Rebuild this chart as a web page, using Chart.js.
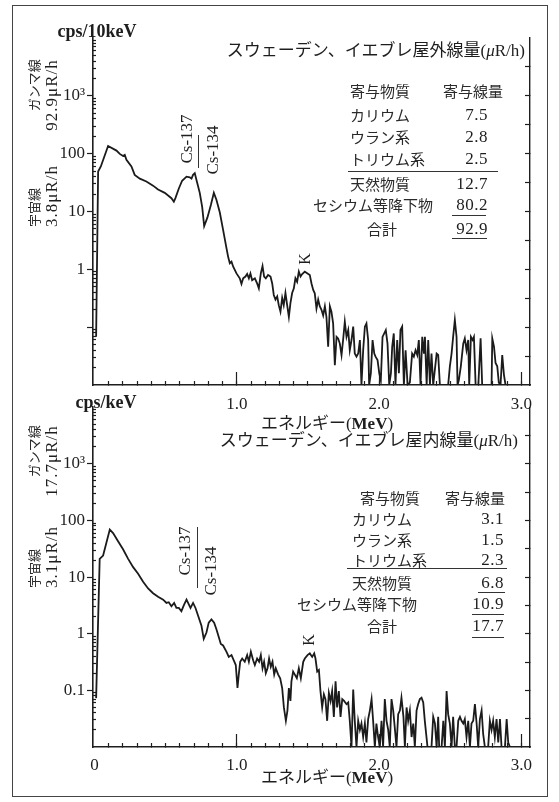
<!DOCTYPE html>
<html lang="ja">
<head>
<meta charset="utf-8">
<script src="https://cdn.jsdelivr.net/npm/chart.js@4.4.1/dist/chart.umd.min.js"></script>
<style>
  html, body { margin: 0; padding: 0; background: #fff; }
  #page { position: relative; width: 559px; height: 802px; overflow: hidden;
          font-family: "Liberation Serif", "Noto Sans CJK JP", serif; color: #1e1e1e; }
  #frame { position: absolute; left: 12px; top: 5px; width: 534px; height: 790px; border: 1.5px solid #444; }
  canvas { position: absolute; left: 0; }
  #overlay { position: absolute; left: 0; top: 0; width: 559px; height: 802px; }
  .t { position: absolute; white-space: nowrap; line-height: 1; }
  .jp { font-family: "Noto Sans CJK JP", sans-serif; font-size: 15px; color: #2a2a2a; }
  .num { font-size: 17px; letter-spacing: 0.5px; }
  .rot { position: absolute; white-space: nowrap; line-height: 1.1; transform: translate(-50%, -50%) rotate(-90deg); }
  .rule { position: absolute; height: 0; border-top: 1.3px solid #333; }
  .bar { position: absolute; width: 0; border-left: 1.3px solid #333; }
</style>
</head>
<body>
<div id="page">
  <div id="frame"></div>
  <canvas id="topChart" width="559" height="420" style="top:0"></canvas>
  <canvas id="bottomChart" width="559" height="407" style="top:395px"></canvas>
  <div id="overlay"></div>
</div>
<script>
/* ------------------------------------------------------------------
   データ — 読み取った値 (エネルギー MeV / 計数率)
   計数が軸の下限まで落ちている所は 0.01 として置いている
   ------------------------------------------------------------------ */
const X_MIN = -0.01, X_MAX = 3.06;
const Y_MIN = 0.01, Y_MAX = 10000;

// 屋外 (cps/10keV)
const outdoorEnergy = [
  0.012, 0.026, 0.045, 0.096, 0.155, 0.178, 0.201, 0.213, 0.225, 0.260, 0.283, 0.319, 0.365, 0.412,
  0.447, 0.494, 0.541, 0.558, 0.569, 0.593, 0.616, 0.647, 0.670, 0.682, 0.693, 0.705, 0.717, 0.740,
  0.757, 0.771, 0.794, 0.818, 0.839, 0.857, 0.881, 0.904, 0.928, 0.939, 0.951, 0.963, 0.975, 0.998,
  1.021, 1.033, 1.045, 1.061, 1.073, 1.085, 1.096, 1.108, 1.127, 1.143, 1.155, 1.169, 1.181, 1.192,
  1.204, 1.220, 1.237, 1.249, 1.260, 1.272, 1.284, 1.295, 1.307, 1.319, 1.330, 1.342, 1.354, 1.366,
  1.377, 1.389, 1.401, 1.412, 1.424, 1.436, 1.448, 1.458, 1.478, 1.497, 1.513, 1.525, 1.537, 1.548,
  1.560, 1.572, 1.583, 1.595, 1.607, 1.619, 1.630, 1.642, 1.654, 1.665, 1.677, 1.689, 1.701, 1.712,
  1.724, 1.736, 1.747, 1.759, 1.771, 1.783, 1.794, 1.806, 1.818, 1.829, 1.841, 1.853, 1.865, 1.876,
  1.888, 1.900, 1.911, 1.923, 1.930, 1.942, 1.954, 1.966, 1.975, 1.989, 2.001, 2.012, 2.024, 2.036,
  2.047, 2.059, 2.071, 2.083, 2.092, 2.103, 2.115, 2.127, 2.139, 2.150, 2.162, 2.174, 2.186, 2.200,
  2.216, 2.232, 2.244, 2.256, 2.268, 2.279, 2.291, 2.303, 2.315, 2.322, 2.334, 2.345, 2.357, 2.368,
  2.380, 2.404, 2.415, 2.427, 2.485, 2.497, 2.509, 2.520, 2.532, 2.544, 2.551, 2.560, 2.574, 2.591,
  2.602, 2.614, 2.626, 2.633, 2.645, 2.657, 2.666, 2.678, 2.697, 2.713, 2.724, 2.790, 2.795, 2.807,
  2.818, 2.830, 2.841, 2.853, 2.865, 2.877, 2.888
];
const outdoorCounts = [
  0.068, 49, 60, 136, 113, 99, 91, 95, 78, 60, 43, 37, 33, 28,
  24, 21, 17, 14.8, 17, 25, 34, 40, 39, 37, 43, 46, 35, 21,
  12, 5.6, 7.9, 13, 21, 16, 9.6, 4.8, 2.3, 1.66, 1.27, 1.36, 1.11, 0.85,
  0.70, 0.56, 0.70, 0.75, 0.83, 0.70, 0.85, 0.65, 0.70, 0.57, 0.47, 0.85, 1.14, 0.75,
  0.70, 0.80, 0.75, 0.57, 0.36, 0.30, 0.34, 0.24, 0.185, 0.32, 0.24, 0.39, 0.24, 0.15,
  0.26, 0.39, 0.47, 0.70, 0.61, 0.91, 0.75, 0.82, 0.91, 0.85, 0.80, 0.57, 0.44, 0.385,
  0.21, 0.30, 0.23, 0.20, 0.16, 0.23, 0.15, 0.046, 0.23, 0.185, 0.116, 0.022, 0.068, 0.064,
  0.052, 0.033, 0.060, 0.124, 0.068, 0.089, 0.040, 0.060, 0.102, 0.035, 0.031, 0.035, 0.060, 0.01,
  0.040, 0.102, 0.116, 0.060, 0.01, 0.016, 0.060, 0.035, 0.031, 0.027, 0.016, 0.012, 0.068, 0.078,
  0.089, 0.052, 0.01, 0.016, 0.046, 0.078, 0.01, 0.060, 0.016, 0.089, 0.102, 0.01, 0.040, 0.01,
  0.011, 0.035, 0.031, 0.040, 0.033, 0.060, 0.01, 0.068, 0.035, 0.068, 0.01, 0.060, 0.01, 0.035,
  0.01, 0.035, 0.033, 0.01, 0.01, 0.021, 0.035, 0.068, 0.133, 0.068, 0.01, 0.012, 0.021, 0.052,
  0.064, 0.040, 0.060, 0.01, 0.068, 0.060, 0.068, 0.01, 0.01, 0.064, 0.01, 0.01, 0.064, 0.046,
  0.024, 0.021, 0.011, 0.01, 0.033, 0.015, 0.01
];

// 屋内 (cps/keV)
const indoorEnergy = [
  0.012, 0.037, 0.061, 0.108, 0.131, 0.166, 0.201, 0.237, 0.272, 0.307, 0.342, 0.377, 0.412, 0.447,
  0.483, 0.506, 0.522, 0.541, 0.560, 0.576, 0.593, 0.611, 0.630, 0.647, 0.658, 0.675, 0.693, 0.710,
  0.729, 0.752, 0.768, 0.787, 0.803, 0.822, 0.841, 0.857, 0.874, 0.888, 0.904, 0.928, 0.944, 0.963,
  0.979, 0.993, 1.005, 1.014, 1.024, 1.038, 1.056, 1.073, 1.085, 1.099, 1.115, 1.127, 1.143, 1.157,
  1.169, 1.181, 1.192, 1.204, 1.216, 1.227, 1.239, 1.251, 1.263, 1.274, 1.291, 1.305, 1.319, 1.331,
  1.345, 1.356, 1.366, 1.377, 1.384, 1.396, 1.408, 1.422, 1.436, 1.450, 1.467, 1.478, 1.497, 1.513,
  1.530, 1.544, 1.553, 1.565, 1.577, 1.588, 1.600, 1.612, 1.623, 1.635, 1.647, 1.659, 1.670, 1.682,
  1.694, 1.705, 1.717, 1.729, 1.741, 1.754, 1.771, 1.783, 1.794, 1.806, 1.818, 1.829, 1.841, 1.853,
  1.865, 1.876, 1.888, 1.900, 1.911, 1.923, 1.935, 1.947, 1.958, 1.970, 1.981, 1.993, 2.005, 2.017,
  2.028, 2.040, 2.052, 2.064, 2.075, 2.087, 2.099, 2.110, 2.122, 2.134, 2.146, 2.157, 2.171, 2.181,
  2.193, 2.204, 2.216, 2.228, 2.240, 2.251, 2.263, 2.274, 2.286, 2.298, 2.310, 2.321, 2.340, 2.368,
  2.380, 2.392, 2.404, 2.415, 2.422, 2.439, 2.451, 2.462, 2.474, 2.485, 2.497, 2.509, 2.520, 2.532,
  2.544, 2.556, 2.568, 2.579, 2.591, 2.602, 2.614, 2.626, 2.638, 2.649, 2.661, 2.673, 2.685, 2.696,
  2.708, 2.720, 2.731, 2.743, 2.766, 2.778, 2.790, 2.801, 2.813, 2.825, 2.837, 2.849, 2.860, 2.884,
  2.896, 2.907, 2.919
];
const indoorCounts = [
  0.073, 21, 24, 69, 60, 43, 31, 21, 15, 11.5, 8.3, 6.3, 5.2, 4.5,
  4.0, 3.5, 3.6, 3.05, 3.5, 2.85, 2.85, 2.5, 3.26, 4.0, 3.5, 2.85, 3.5, 2.85,
  2.05, 1.38, 0.81, 1.05, 1.57, 1.79, 1.57, 1.2, 0.87, 0.66, 0.62, 0.48, 0.39, 0.42,
  0.34, 0.28, 0.11, 0.19, 0.32, 0.365, 0.32, 0.42, 0.32, 0.48, 0.34, 0.28, 0.365, 0.32,
  0.42, 0.245, 0.32, 0.20, 0.245, 0.365, 0.26, 0.32, 0.19, 0.245, 0.19, 0.164, 0.11, 0.05,
  0.029, 0.044, 0.11, 0.065, 0.144, 0.215, 0.19, 0.164, 0.245, 0.164, 0.32, 0.365, 0.42, 0.45,
  0.39, 0.45, 0.365, 0.215, 0.23, 0.097, 0.050, 0.085, 0.07, 0.029, 0.09, 0.065, 0.097, 0.034,
  0.144, 0.050, 0.097, 0.034, 0.07, 0.065, 0.057, 0.061, 0.029, 0.01, 0.103, 0.029, 0.01, 0.029,
  0.020, 0.026, 0.015, 0.026, 0.012, 0.031, 0.044, 0.07, 0.029, 0.01, 0.026, 0.015, 0.01, 0.029,
  0.01, 0.07, 0.029, 0.020, 0.01, 0.07, 0.044, 0.022, 0.01, 0.038, 0.044, 0.074, 0.034, 0.01,
  0.050, 0.029, 0.044, 0.015, 0.026, 0.01, 0.044, 0.057, 0.07, 0.074, 0.061, 0.029, 0.01, 0.01,
  0.034, 0.026, 0.01, 0.034, 0.01, 0.01, 0.029, 0.01, 0.097, 0.038, 0.026, 0.01, 0.034, 0.01,
  0.01, 0.029, 0.034, 0.029, 0.026, 0.031, 0.015, 0.029, 0.01, 0.026, 0.029, 0.057, 0.026, 0.01,
  0.031, 0.044, 0.017, 0.01, 0.01, 0.029, 0.020, 0.029, 0.015, 0.031, 0.012, 0.031, 0.01, 0.01,
  0.031, 0.012, 0.01
];

// 目盛り
const xTickValuesTop = [1, 2, 3];
const xTickValuesBottom = [0, 1, 2, 3];
const yTickValues = [0.1, 1, 10, 100, 1000];
const yTickLabelsTop = ['', '1', '10', '100', '10³'];
const yTickLabelsBottom = ['0.1', '1', '10', '100', '10³'];

// 寄与線量の表
const SOURCE_LABELS = ['カリウム', 'ウラン系', 'トリウム系', '天然物質', 'セシウム等降下物', '合計'];
const outdoorDose = ['7.5', '2.8', '2.5', '12.7', '80.2', '92.9'];
const indoorDose = ['3.1', '1.5', '2.3', '6.8', '10.9', '17.7'];

const INK = '#1e1e1e';
const SERIF = '"Liberation Serif", "Noto Sans CJK JP", serif';

// 目盛りの位置 (0.1 MeV 刻み、対数の 2〜9、半ディケード)
const X_MINOR = Array.from({ length: 31 }, (_, i) => i / 10);
const Y_MINOR = [];
for (let e = -2; e < 4; e++) for (let k = 2; k <= 9; k++) Y_MINOR.push(k * 10 ** e);
const Y_HALF = [];
for (let h = -3; h <= 7; h++) Y_HALF.push(10 ** (h / 2));

/* ------------------------------------------------------------------
   グラフ — 目盛りは軸を重ねて描く (負の tickLength で内向き)
   ------------------------------------------------------------------ */
function tickAxis(type, position, min, max, values, len, width, weight) {
  return {
    type, position, min, max, weight,
    afterBuildTicks: s => { s.ticks = values.map(v => ({ value: v })); },
    afterFit: s => { if (position === 'bottom') s.height = 0; else s.width = width; },
    ticks: { display: false, autoSkip: false },
    grid: { display: true, drawOnChartArea: false, drawTicks: true, tickLength: len, tickColor: INK, tickWidth: 1.2 },
    border: { display: false },
  };
}

function buildChart(id, energy, counts, cfg) {
  const rightAxis = tickAxis('logarithmic', 'right', Y_MIN, Y_MAX, Y_HALF, -5, 0, 0);
  rightAxis.border = { display: true, color: INK, width: 1.4 };

  return new Chart(document.getElementById(id), {
    type: 'scatter',
    data: {
      datasets: [{
        data: energy.map((e, i) => ({ x: e, y: counts[i] })),
        showLine: true,
        borderColor: '#1b1b1b',
        borderWidth: 1.8,
        pointRadius: 0,
        tension: 0,
      }]
    },
    options: {
      responsive: false,
      animation: false,
      events: [],
      layout: { padding: { left: 0, right: 29, top: cfg.padTop, bottom: 0 } },
      plugins: { legend: { display: false }, tooltip: { enabled: false } },
      scales: {
        xMajor: tickAxis('linear', 'bottom', X_MIN, X_MAX, [1, 2, 3], -13, 0, 0),
        x: {
          type: 'linear', min: X_MIN, max: X_MAX, weight: 1,
          afterBuildTicks: s => { s.ticks = X_MINOR.map(v => ({ value: v })); },
          afterFit: s => { s.height = cfg.xHeight; },
          ticks: {
            autoSkip: false, maxRotation: 0, padding: cfg.xPad, color: INK,
            font: { family: SERIF, size: 17 },
            callback: v => {
              const hit = cfg.xTicks.find(t => Math.abs(t - v) < 1e-6);
              if (hit === undefined) return '';
              return hit === 0 ? '0' : hit.toFixed(1);
            },
          },
          grid: { display: true, drawOnChartArea: false, drawTicks: true, tickLength: -4, tickColor: (c) => (c.index === 0 ? 'rgba(0,0,0,0)' : INK), tickWidth: 1.2 },
          border: { display: true, color: INK, width: 1.6 },
        },
        yMinor: tickAxis('logarithmic', 'left', Y_MIN, Y_MAX, Y_MINOR, -3, 0, 0),
        y: {
          type: 'logarithmic', min: Y_MIN, max: Y_MAX, weight: 1,
          afterBuildTicks: s => { s.ticks = yTickValues.map(v => ({ value: v })); },
          afterFit: s => { s.width = 93; },
          ticks: {
            autoSkip: false, padding: 2, color: INK,
            font: { family: SERIF, size: 17 },
            callback: v => cfg.yLabels[yTickValues.indexOf(v)] ?? '',
          },
          grid: { display: true, drawOnChartArea: false, drawTicks: true, tickLength: 6, tickColor: INK, tickWidth: 1.2 },
          border: { display: true, color: INK, width: 1.6 },
        },
        yRight: rightAxis,
      }
    }
  });
}

/* ------------------------------------------------------------------
   文字の配置 (y は文字の中心)
   ------------------------------------------------------------------ */
const overlay = document.getElementById('overlay');

function addText(text, x, y, align, cls, style) {
  const d = document.createElement('div');
  d.className = 't ' + (cls || '');
  const tx = align === 'c' ? '-50%' : align === 'r' ? '-100%' : '0';
  d.style.left = x + 'px';
  d.style.top = y + 'px';
  d.style.transform = `translate(${tx}, -50%)`;
  if (style) Object.assign(d.style, style);
  d.innerHTML = text;
  overlay.appendChild(d);
  return d;
}

function addRotated(html, cx, cy, align, style) {
  const d = document.createElement('div');
  d.className = 'rot';
  d.style.left = cx + 'px';
  d.style.top = cy + 'px';
  d.style.textAlign = align;
  if (style) Object.assign(d.style, style);
  d.innerHTML = html;
  overlay.appendChild(d);
}

function addRule(x1, x2, y) {
  const d = document.createElement('div');
  d.className = 'rule';
  d.style.left = x1 + 'px';
  d.style.top = y + 'px';
  d.style.width = (x2 - x1) + 'px';
  overlay.appendChild(d);
}

function addBar(x, y1, y2) {
  const d = document.createElement('div');
  d.className = 'bar';
  d.style.left = x + 'px';
  d.style.top = y1 + 'px';
  d.style.height = (y2 - y1) + 'px';
  overlay.appendChild(d);
}

function renderTable(values, L) {
  addText(L.title, L.titleRight, L.titleY, 'r', '', { fontSize: '17px' });
  addText('寄与物質', L.headLeft, L.headY, 'l', 'jp');
  addText('寄与線量', L.headRight, L.headY, 'r', 'jp');
  SOURCE_LABELS.forEach((lab, i) => {
    const y = L.rowsY[i];
    if (i === 4) addText(lab, L.cesiumRight, y, 'r', 'jp');
    else if (i === 5) addText(lab, L.totalCenter, y, 'c', 'jp');
    else addText(lab, L.labelLeft, y, 'l', 'jp');
    addText(values[i], L.valueRight, y, 'r', 'num');
  });
  addRule(L.rule[0], L.rule[1], L.rule[2]);
  L.underlines.forEach(u => addRule(u[0], u[1], u[2]));
}

function renderLabels() {
  // 上段 屋外
  addText('cps/10keV', 97, 31, 'c', '', { fontSize: '18px', fontWeight: 'bold' });
  addRotated('<span class="jp" style="font-size:13px">ガンマ線</span><br><span style="font-size:17px;letter-spacing:1px">92.9μR/h</span>', 43, 95, 'right');
  addRotated('<span class="jp" style="font-size:13px">宇宙線</span><br><span style="font-size:17px;letter-spacing:1px">3.8μR/h</span>', 43, 196, 'left');
  addRotated('Cs-137', 187, 139, 'center', { fontSize: '17px' });
  addRotated('Cs-134', 213, 150, 'center', { fontSize: '17px' });
  addBar(198, 135, 168);
  addRotated('K', 305, 259, 'center', { fontSize: '16px' });
  addText('エネルギー(<b>MeV</b>)', 327, 423, 'c', '', { fontSize: '17px' });
  renderTable(outdoorDose, {
    title: 'スウェーデン、イエブレ屋外線量(<i>μ</i>R/h)', titleRight: 525, titleY: 50,
    headLeft: 350, headRight: 503, headY: 90,
    rowsY: [114, 136, 158, 183, 204, 228],
    labelLeft: 350, valueRight: 488, cesiumRight: 433, totalCenter: 382,
    rule: [348, 498, 171],
    underlines: [[452, 486, 215], [452, 487, 238]],
  });

  // 下段 屋内
  addText('cps/keV', 106, 402, 'c', '', { fontSize: '18px', fontWeight: 'bold' });
  addRotated('<span class="jp" style="font-size:13px">ガンマ線</span><br><span style="font-size:17px;letter-spacing:1px">17.7μR/h</span>', 43, 461, 'right');
  addRotated('<span class="jp" style="font-size:13px">宇宙線</span><br><span style="font-size:17px;letter-spacing:1px">3.1μR/h</span>', 43, 557, 'left');
  addRotated('Cs-137', 185, 551, 'center', { fontSize: '17px' });
  addRotated('Cs-134', 211, 571, 'center', { fontSize: '17px' });
  addBar(197, 527, 588);
  addRotated('K', 309, 640, 'center', { fontSize: '16px' });
  addText('エネルギー(<b>MeV</b>)', 327, 777, 'c', '', { fontSize: '17px' });
  renderTable(indoorDose, {
    title: 'スウェーデン、イエブレ屋内線量(<i>μ</i>R/h)', titleRight: 518, titleY: 440,
    headLeft: 360, headRight: 505, headY: 497,
    rowsY: [518, 539, 559, 582, 603, 625],
    labelLeft: 352, valueRight: 504, cesiumRight: 417, totalCenter: 382,
    rule: [347, 507, 568],
    underlines: [[478, 505, 592], [472, 504, 614], [472, 504, 637]],
  });
}

document.addEventListener('DOMContentLoaded', () => {
  buildChart('topChart', outdoorEnergy, outdoorCounts, {
    padTop: 38, xHeight: 35, xPad: 13, xTicks: xTickValuesTop, yLabels: yTickLabelsTop,
  });
  buildChart('bottomChart', indoorEnergy, indoorCounts, {
    padTop: 5, xHeight: 55, xPad: 12, xTicks: xTickValuesBottom, yLabels: yTickLabelsBottom,
  });
  renderLabels();
});
</script>
</body>
</html>
